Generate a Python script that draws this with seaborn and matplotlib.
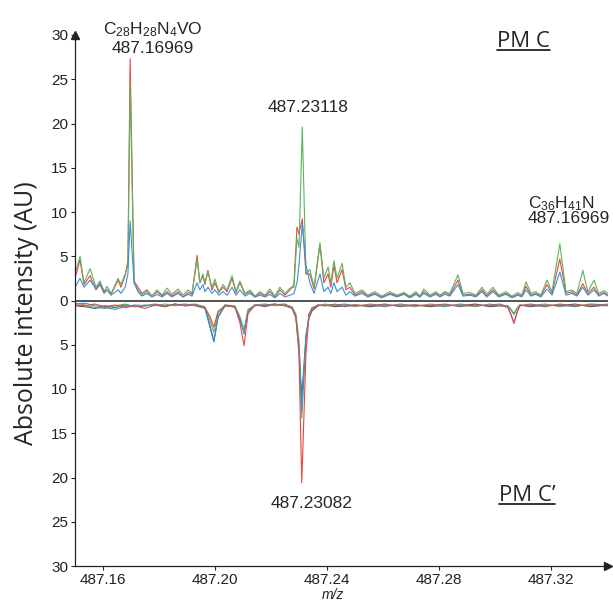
import pandas as pd
import seaborn as sns
import matplotlib.pyplot as plt
from matplotlib.lines import Line2D

# ---- data ----
# upper panel (PM C), peak/valley vertices
mz_top = [487.1500, 487.1518, 487.1532, 487.1554, 487.1575, 487.1589, 487.1604, 487.1614, 487.1629, 487.1654,
          487.1664, 487.1679, 487.1689, 487.1697, 487.1711, 487.1725, 487.1739, 487.1757, 487.1775, 487.1793,
          487.1811, 487.1829, 487.1846, 487.1868, 487.1886, 487.1904, 487.1918, 487.1936, 487.1946, 487.1957,
          487.1964, 487.1975, 487.1989, 487.2000, 487.2014, 487.2029, 487.2043, 487.2061, 487.2075, 487.2089,
          487.2107, 487.2125, 487.2143, 487.2161, 487.2179, 487.2196, 487.2214, 487.2232, 487.2250, 487.2268,
          487.2282, 487.2293, 487.2300, 487.2312, 487.2325, 487.2339, 487.2354, 487.2375, 487.2389, 487.2404,
          487.2414, 487.2425, 487.2436, 487.2454, 487.2468, 487.2482, 487.2500, 487.2525, 487.2546, 487.2571,
          487.2596, 487.2625, 487.2650, 487.2675, 487.2696, 487.2718, 487.2732, 487.2746, 487.2768, 487.2789,
          487.2804, 487.2821, 487.2839, 487.2868, 487.2886, 487.2911, 487.2932, 487.2954, 487.2971, 487.2993,
          487.3014, 487.3039, 487.3061, 487.3082, 487.3096, 487.3111, 487.3129, 487.3146, 487.3164, 487.3186,
          487.3204, 487.3232, 487.3254, 487.3275, 487.3293, 487.3314, 487.3332, 487.3354, 487.3371, 487.3389, 487.3404]

green_top = [3.0, 5.0, 2.0, 3.6, 1.5, 2.2, 1.0, 1.6, 0.8, 2.5,
             1.8, 3.0, 4.0, 24.5, 2.0, 1.2, 0.6, 1.0, 0.5, 1.2,
             0.6, 1.4, 0.7, 1.3, 0.6, 1.2, 0.8, 4.6, 2.0, 3.0,
             2.0, 3.2, 1.5, 2.4, 1.0, 1.8, 1.2, 2.8, 1.0, 2.2,
             0.8, 1.2, 0.5, 1.0, 0.6, 1.3, 0.5, 1.5, 0.8, 1.4,
             1.5, 7.0, 6.0, 19.6, 3.0, 3.5, 1.5, 6.5, 2.5, 3.8,
             2.0, 4.5, 2.5, 4.2, 1.5, 2.0, 0.8, 1.2, 0.6, 1.0,
             0.5, 1.0, 0.6, 0.9, 0.5, 1.0, 0.5, 1.3, 0.6, 1.0,
             0.6, 1.0, 0.8, 2.9, 0.8, 0.9, 0.6, 1.5, 0.7, 1.5,
             0.6, 1.0, 0.5, 0.9, 0.6, 2.1, 0.8, 1.0, 0.6, 2.3,
             1.0, 6.4, 1.0, 1.2, 0.8, 3.4, 1.0, 2.3, 0.8, 1.1, 0.8]

red_top = [2.5, 4.6, 1.8, 2.8, 1.2, 1.8, 0.8, 1.2, 0.7, 2.3,
           1.5, 2.8, 4.5, 27.3, 2.2, 1.5, 0.8, 1.2, 0.5, 1.0,
           0.5, 1.0, 0.5, 1.0, 0.4, 0.9, 0.7, 5.1, 2.0, 2.8,
           1.8, 3.4, 1.2, 2.0, 0.9, 1.5, 1.0, 2.5, 0.9, 2.0,
           0.7, 1.0, 0.4, 0.8, 0.5, 1.0, 0.4, 1.2, 0.6, 1.2,
           1.8, 8.3, 7.5, 9.2, 3.0, 3.0, 1.3, 6.3, 2.0, 3.0,
           1.5, 4.0, 2.0, 3.5, 1.2, 1.5, 0.6, 1.0, 0.5, 0.8,
           0.4, 0.8, 0.5, 0.8, 0.4, 0.8, 0.4, 1.0, 0.5, 0.8,
           0.5, 0.9, 0.6, 2.3, 0.6, 0.7, 0.5, 1.2, 0.5, 1.2,
           0.5, 0.8, 0.4, 0.7, 0.5, 1.6, 0.6, 0.8, 0.5, 1.8,
           0.8, 4.7, 0.8, 1.0, 0.6, 1.9, 0.8, 1.5, 0.6, 0.9, 0.6]

blue_top = [1.5, 2.5, 1.5, 2.3, 1.3, 2.0, 1.0, 1.2, 0.6, 1.2,
            0.8, 1.5, 3.0, 9.0, 2.0, 1.0, 0.5, 0.8, 0.4, 0.7,
            0.4, 0.8, 0.4, 0.8, 0.4, 0.7, 0.5, 2.0, 1.2, 1.8,
            1.0, 1.5, 0.8, 1.2, 0.6, 1.0, 0.6, 1.5, 0.6, 1.2,
            0.5, 0.8, 0.4, 0.6, 0.4, 0.7, 0.3, 0.8, 0.4, 0.6,
            0.8, 2.0, 4.0, 8.7, 4.0, 2.0, 0.8, 3.0, 1.0, 1.5,
            0.8, 2.0, 1.0, 1.5, 0.6, 1.0, 0.5, 0.8, 0.4, 0.7,
            0.3, 0.7, 0.4, 0.7, 0.3, 0.7, 0.4, 0.8, 0.4, 0.7,
            0.4, 0.7, 0.5, 1.8, 0.5, 0.6, 0.4, 1.0, 0.4, 1.0,
            0.4, 0.7, 0.3, 0.6, 0.4, 1.2, 0.5, 0.7, 0.4, 1.3,
            0.6, 3.2, 0.6, 0.8, 0.5, 1.5, 0.6, 1.2, 0.5, 0.8, 0.5]

# lower panel (PM C'), mirrored
mz_bot = [487.1500, 487.1536, 487.1571, 487.1607, 487.1643, 487.1679, 487.1714, 487.1750, 487.1786, 487.1821,
          487.1857, 487.1893, 487.1929, 487.1964, 487.1982, 487.1996, 487.2011, 487.2036, 487.2071, 487.2089,
          487.2104, 487.2118, 487.2143, 487.2179, 487.2214, 487.2250, 487.2275, 487.2289, 487.2300, 487.2310,
          487.2325, 487.2336, 487.2346, 487.2368, 487.2393, 487.2429, 487.2464, 487.2500, 487.2554, 487.2607,
          487.2661, 487.2714, 487.2768, 487.2821, 487.2875, 487.2929, 487.2982, 487.3018, 487.3046, 487.3057,
          487.3068, 487.3079, 487.3089, 487.3125, 487.3179, 487.3232, 487.3286, 487.3339, 487.3404]

red_bot = [-0.5, -0.6, -0.4, -0.7, -0.5, -0.8, -0.6, -0.9, -0.5, -0.7,
           -0.4, -0.6, -0.5, -0.8, -1.8, -3.0, -1.2, -0.6, -0.7, -2.5,
           -5.1, -1.5, -0.5, -0.7, -0.4, -0.6, -0.8, -1.8, -6.0, -20.6,
           -6.0, -1.5, -1.0, -0.5, -0.6, -0.4, -0.7, -0.5, -0.6, -0.4,
           -0.7, -0.5, -0.6, -0.4, -0.7, -0.5, -0.6, -0.5, -0.8, -1.6,
           -2.6, -1.4, -0.6, -0.5, -0.7, -0.4, -0.6, -0.5, -0.6]

green_bot = [-0.3, -0.5, -0.8, -0.9, -0.6, -0.4, -0.7, -0.5, -0.6, -0.4,
             -0.6, -0.5, -0.4, -0.7, -2.2, -3.6, -1.4, -0.5, -0.6, -1.8,
             -3.4, -1.0, -0.5, -0.4, -0.6, -0.5, -0.7, -1.5, -4.5, -13.3,
             -4.0, -1.8, -0.8, -0.6, -0.4, -0.6, -0.5, -0.7, -0.4, -0.6,
             -0.5, -0.7, -0.4, -0.6, -0.5, -0.7, -0.4, -0.6, -0.6, -1.0,
             -1.6, -0.9, -0.5, -0.6, -0.4, -0.7, -0.5, -0.6, -0.4]

blue_bot = [-0.4, -0.3, -0.6, -0.8, -1.0, -0.7, -0.5, -0.6, -0.4, -0.6,
            -0.5, -0.4, -0.6, -0.9, -3.0, -4.7, -1.8, -0.5, -0.8, -2.0,
            -3.8, -1.2, -0.6, -0.5, -0.4, -0.6, -0.9, -2.0, -5.5, -12.5,
            -4.5, -1.6, -0.9, -0.5, -0.6, -0.5, -0.4, -0.6, -0.5, -0.7,
            -0.4, -0.6, -0.5, -0.7, -0.4, -0.6, -0.5, -0.4, -0.7, -1.5,
            -2.5, -1.3, -0.6, -0.4, -0.6, -0.5, -0.7, -0.4, -0.5]

gray_bot = [-0.6, -0.7, -0.9, -0.6, -0.8, -0.5, -0.7, -0.6, -0.5, -0.7,
            -0.4, -0.6, -0.5, -0.8, -2.8, -4.6, -1.9, -0.6, -0.7, -2.2,
            -3.4, -1.2, -0.5, -0.6, -0.5, -0.4, -0.8, -1.8, -5.0, -11.0,
            -4.0, -2.0, -1.2, -0.6, -0.5, -0.7, -0.6, -0.5, -0.7, -0.5,
            -0.6, -0.5, -0.7, -0.5, -0.6, -0.4, -0.7, -0.6, -0.6, -1.0,
            -1.5, -0.9, -0.5, -0.7, -0.5, -0.6, -0.4, -0.7, -0.5]

xticks = [487.16, 487.20, 487.24, 487.28, 487.32]
yticks = [-30, -25, -20, -15, -10, -5, 0, 5, 10, 15, 20, 25, 30]

colors = {'gray_bot': '#3f5e5b', 'red_bot': '#e8473f', 'green_bot': '#5ab55e', 'blue_bot': '#3b90d6',
          'red_top': '#e8473f', 'green_top': '#5ab55e', 'blue_top': '#3b90d6'}

frames = []
for name, mz, vals in [('gray_bot', mz_bot, gray_bot), ('green_bot', mz_bot, green_bot),
                       ('blue_bot', mz_bot, blue_bot), ('red_bot', mz_bot, red_bot),
                       ('red_top', mz_top, red_top), ('green_top', mz_top, green_top),
                       ('blue_top', mz_top, blue_top)]:
    frames.append(pd.DataFrame({'mz': mz, 'intensity': vals, 'trace': name}))
df = pd.concat(frames, ignore_index=True)

sns.set_style("ticks")
plt.rcParams['font.family'] = ['Liberation Sans', 'DejaVu Sans']
plt.rcParams['mathtext.fontset'] = 'custom'
plt.rcParams['mathtext.rm'] = 'Liberation Sans'

fig = plt.figure(figsize=(6.13, 6.06), dpi=100)
ax = fig.add_axes([75/613, 1 - 566/606, 533/613, 531/606])

sns.lineplot(data=df, x='mz', y='intensity', hue='trace', palette=colors, estimator=None,
             linewidth=0.8, legend=False, ax=ax)
ax.axhline(0, color='#333333', lw=1.2, zorder=3)

ax.set_xlim(487.15, 487.3404)
ax.set_ylim(-30, 30)
ax.set_xticks(xticks)
ax.set_xticklabels([f'{t:.2f}' for t in xticks])
ax.set_yticks(yticks)
ax.set_yticklabels([str(abs(t)) for t in yticks])
ax.tick_params(labelsize=11, length=3, width=0.8, pad=2, colors='#222222')
sns.despine(ax=ax)
for s in ['left', 'bottom']:
    ax.spines[s].set_linewidth(0.9)
    ax.spines[s].set_color('#222222')
ax.plot([1], [0], marker='>', color='#222222', ms=6, transform=ax.transAxes, clip_on=False)
ax.plot([0], [1], marker='^', color='#222222', ms=6, transform=ax.transAxes, clip_on=False)

ax.set_ylabel('Absolute intensity (AU)', family='Open Sans', fontsize=18)
ax.yaxis.set_label_coords(-0.068, 0.477)
ax.set_xlabel('m/z', style='italic', fontsize=10)
ax.xaxis.set_label_coords(0.484, -0.041)

# peak annotations
ax.text(487.1779, 30.1, r'$\mathregular{C_{28}H_{28}N_{4}VO}$', ha='center', va='baseline', fontsize=12.5)
ax.text(487.1779, 28.0, '487.16969', ha='center', va='baseline', fontsize=12.5)
ax.text(487.2333, 21.25, '487.23118', ha='center', va='baseline', fontsize=12.5)
ax.text(487.3118, 10.45, r'$\mathregular{C_{36}H_{41}N}$', ha='left', va='baseline', fontsize=12.5)
ax.text(487.3118, 8.75, '487.16969', ha='left', va='baseline', fontsize=12.5)
ax.text(487.2346, -23.4, '487.23082', ha='center', va='baseline', fontsize=12.5)

pm_top = ax.text(487.3009, 28.6, 'PM C', ha='left', va='baseline', family='Open Sans', fontsize=16)
pm_bot = ax.text(487.3014, -22.7, 'PM C\u2019', ha='left', va='baseline', family='Open Sans', fontsize=16)

# underline the panel labels
fig.canvas.draw()
renderer = fig.canvas.get_renderer()
for t in [pm_top, pm_bot]:
    bb = t.get_window_extent(renderer)
    base = ax.transData.transform(t.get_position())[1]
    pts = fig.transFigure.inverted().transform([(bb.x0, base - 3), (bb.x1, base - 3)])
    fig.add_artist(Line2D(pts[:, 0], pts[:, 1], color='#111111', lw=1.2))

plt.savefig('out.png', dpi=100)
